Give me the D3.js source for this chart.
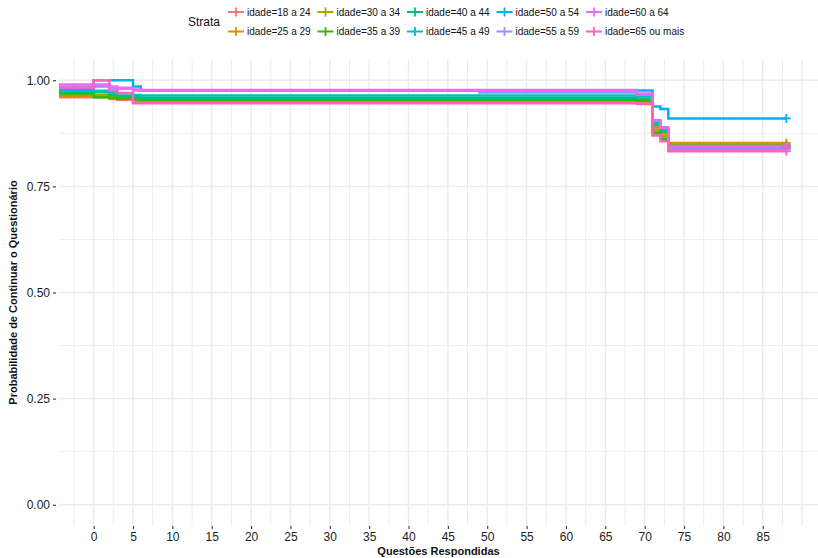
<!DOCTYPE html>
<html>
<head>
<meta charset="utf-8">
<script src="https://cdn.jsdelivr.net/npm/d3@7"></script>
<style>
  body { margin: 0; background: #fff; }
  svg { display: block; font-family: "Liberation Sans", Arial, Helvetica, sans-serif; }
</style>
</head>
<body>
<svg id="chart" width="818" height="558"></svg>
<script>
// strata and their ggplot hue colours
const strata = [
  "idade=18 a 24", "idade=25 a 29", "idade=30 a 34", "idade=35 a 39", "idade=40 a 44",
  "idade=45 a 49", "idade=50 a 54", "idade=55 a 59", "idade=60 a 64", "idade=65 ou mais"
];
const colors = [
  "#F8766D", "#D89000", "#A3A500", "#39B600", "#00BF7D",
  "#00BFC4", "#00B0F6", "#9590FF", "#E76BF3", "#FF62BC"
];

// step times (curve holds value until next time), last censor time
const times = [-4.4, 0, 2, 3, 5, 6, 49, 69, 71, 72, 73];
const endTime = 88;

// survival estimates
const surv18_24 = [0.960, 0.960, 0.956, 0.954, 0.950, 0.949, 0.949, 0.948, 0.885, 0.870, 0.848];
const surv25_29 = [0.963, 0.963, 0.959, 0.957, 0.953, 0.952, 0.952, 0.951, 0.890, 0.875, 0.852];
const surv30_34 = [0.966, 0.966, 0.961, 0.959, 0.956, 0.955, 0.955, 0.953, 0.880, 0.868, 0.846];
const surv35_39 = [0.969, 0.960, 0.958, 0.957, 0.955, 0.954, 0.954, 0.952, 0.875, 0.862, 0.842];
const surv40_44 = [0.972, 0.972, 0.966, 0.963, 0.960, 0.959, 0.959, 0.957, 0.895, 0.880, 0.845];
const surv45_49 = [0.975, 0.975, 0.971, 0.969, 0.965, 0.964, 0.964, 0.962, 0.900, 0.885, 0.840];
const surv50_54 = [0.978, 1.000, 1.000, 1.000, 0.985, 0.976, 0.976, 0.976, 0.938, 0.932, 0.910];
const surv55_59 = [0.985, 0.985, 0.982, 0.980, 0.976, 0.975, 0.971, 0.966, 0.905, 0.889, 0.838];
const surv60_64 = [0.990, 0.990, 0.985, 0.982, 0.978, 0.977, 0.977, 0.969, 0.906, 0.888, 0.844];
const surv65 =    [0.982, 1.000, 0.976, 0.970, 0.946, 0.946, 0.946, 0.944, 0.870, 0.856, 0.833];
const survByStratum = [surv18_24, surv25_29, surv30_34, surv35_39, surv40_44,
  surv45_49, surv50_54, surv55_59, surv60_64, surv65];

const xTicks = d3.range(0, 86, 5);
const yTicks = [0, 0.25, 0.5, 0.75, 1];

const svg = d3.select("#chart");
const panel = { left: 59, right: 821, top: 59, bottom: 526 };

const x = d3.scaleLinear().domain([-4.4, 92.4]).range([panel.left, panel.right]);
const y = d3.scaleLinear().domain([-0.05, 1.05]).range([panel.bottom, panel.top]);

// grid (major + minor)
const grid = svg.append("g");
const xMinor = d3.range(-2.5, 92.5, 5);
const yMinor = d3.range(0.125, 1.05, 0.25);
grid.selectAll("line.xmin").data(xMinor).join("line")
  .attr("x1", d => x(d)).attr("x2", d => x(d))
  .attr("y1", panel.top).attr("y2", panel.bottom)
  .attr("stroke", "#ededed").attr("stroke-width", 1);
grid.selectAll("line.ymin").data(yMinor).join("line")
  .attr("y1", d => y(d)).attr("y2", d => y(d))
  .attr("x1", panel.left).attr("x2", panel.right)
  .attr("stroke", "#ededed").attr("stroke-width", 1);
grid.selectAll("line.xmaj").data(xTicks.concat([90])).join("line")
  .attr("x1", d => x(d)).attr("x2", d => x(d))
  .attr("y1", panel.top).attr("y2", panel.bottom)
  .attr("stroke", "#ebebeb").attr("stroke-width", 1.4);
grid.selectAll("line.ymaj").data(yTicks).join("line")
  .attr("y1", d => y(d)).attr("y2", d => y(d))
  .attr("x1", panel.left).attr("x2", panel.right)
  .attr("stroke", "#ebebeb").attr("stroke-width", 1.4);

// axes
const xAxis = svg.append("g")
  .attr("transform", `translate(0,${panel.bottom})`)
  .call(d3.axisBottom(x).tickValues(xTicks).tickSize(3).tickPadding(3).tickFormat(d3.format("d")));
const yAxis = svg.append("g")
  .attr("transform", `translate(${panel.left - 3},0)`)
  .call(d3.axisLeft(y).tickValues(yTicks).tickSize(3).tickPadding(3).tickFormat(d3.format(".2f")));
[xAxis, yAxis].forEach(a => {
  a.select(".domain").remove();
  a.selectAll(".tick line").attr("stroke", "#333").attr("stroke-width", 1.1);
  a.selectAll(".tick text").attr("fill", "#222").attr("font-size", 12)
    .attr("font-family", "'Liberation Sans', Arial, sans-serif");
});

// curves
const line = d3.line()
  .x(d => x(d[0]))
  .y(d => y(d[1]))
  .curve(d3.curveStepAfter);

const curves = svg.append("g");
survByStratum.forEach((s, i) => {
  const pts = times.map((t, j) => [t, s[j]]);
  pts.push([endTime, s[s.length - 1]]);
  curves.append("path")
    .datum(pts)
    .attr("d", line)
    .attr("fill", "none")
    .attr("stroke", colors[i])
    .attr("stroke-width", 2.5);
});
// censor marks at the end
survByStratum.forEach((s, i) => {
  const cx = x(endTime), cy = y(s[s.length - 1]);
  const g = curves.append("g").attr("stroke", colors[i]).attr("stroke-width", 1.8);
  g.append("line").attr("x1", cx - 4.5).attr("x2", cx + 4.5).attr("y1", cy).attr("y2", cy);
  g.append("line").attr("x1", cx).attr("x2", cx).attr("y1", cy - 4.5).attr("y2", cy + 4.5);
});

// axis titles
svg.append("text")
  .attr("x", (panel.left + 818) / 2).attr("y", 555)
  .attr("text-anchor", "middle").attr("font-size", 11).attr("font-weight", "bold")
  .attr("fill", "#111")
  .text("Questões Respondidas");
svg.append("text")
  .attr("transform", `translate(17,${(panel.top + panel.bottom) / 2}) rotate(-90)`)
  .attr("text-anchor", "middle").attr("font-size", 11).attr("font-weight", "bold")
  .attr("fill", "#111")
  .text("Probabilidade de Continuar o Questionário");

// legend, filled column by column in two rows
const legend = svg.append("g");
legend.append("text")
  .attr("x", 188).attr("y", 22).attr("dy", "0.35em")
  .attr("font-size", 12).attr("fill", "#111")
  .text("Strata");
strata.forEach((name, i) => {
  const col = Math.floor(i / 2), row = i % 2;
  const kx = 228 + col * 89.5, ky = row === 0 ? 12 : 31.5;
  const g = legend.append("g").attr("transform", `translate(${kx},${ky})`);
  g.append("line").attr("x1", 0).attr("x2", 16).attr("y1", 0).attr("y2", 0)
    .attr("stroke", colors[i]).attr("stroke-width", 2);
  g.append("line").attr("x1", 8).attr("x2", 8).attr("y1", -4.5).attr("y2", 4.5)
    .attr("stroke", colors[i]).attr("stroke-width", 1.8);
  g.append("text").attr("x", 19).attr("dy", "0.35em")
    .attr("font-size", 10).attr("fill", "#111")
    .text(name);
});
</script>
</body>
</html>
